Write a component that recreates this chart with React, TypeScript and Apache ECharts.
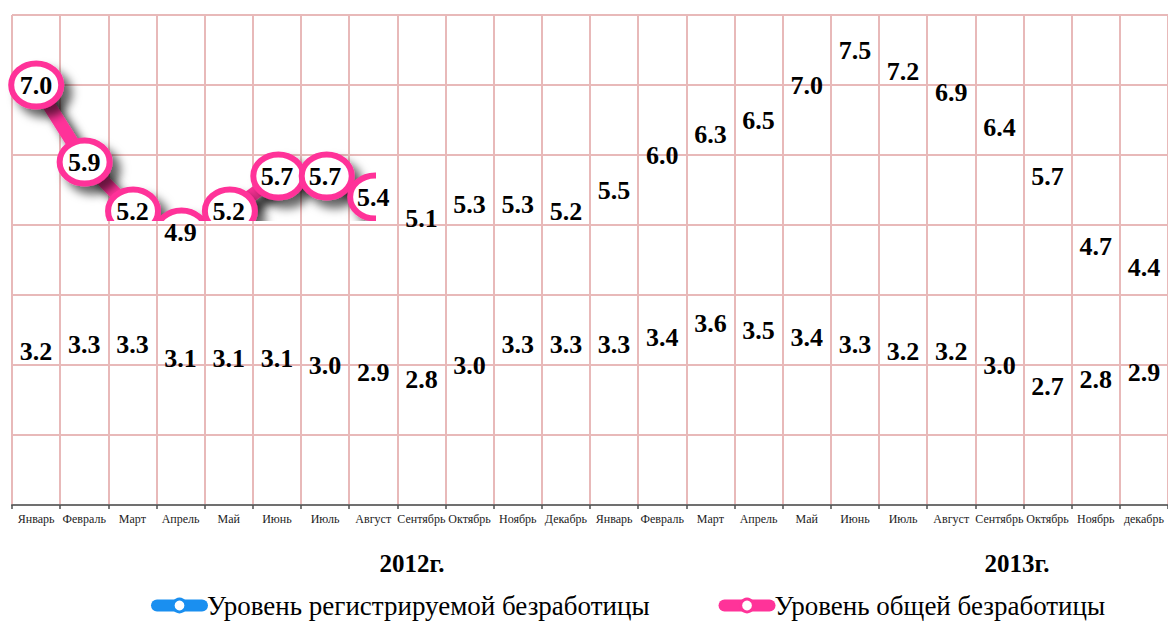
import React, { useEffect, useRef } from 'react';
import * as echarts from 'echarts';

const months = ['Январь', 'Февраль', 'Март', 'Апрель', 'Май', 'Июнь', 'Июль', 'Август', 'Сентябрь', 'Октябрь', 'Ноябрь', 'Декабрь',
  'Январь', 'Февраль', 'Март', 'Апрель', 'Май', 'Июнь', 'Июль', 'Август', 'Сентябрь', 'Октябрь', 'Ноябрь', 'декабрь'];
const registered = [3.2, 3.3, 3.3, 3.1, 3.1, 3.1, 3.0, 2.9, 2.8, 3.0, 3.3, 3.3, 3.3, 3.4, 3.6, 3.5, 3.4, 3.3, 3.2, 3.2, 3.0, 2.7, 2.8, 2.9];
const total = [7.0, 5.9, 5.2, 4.9, 5.2, 5.7, 5.7, 5.4, 5.1, 5.3, 5.3, 5.2, 5.5, 6.0, 6.3, 6.5, 7.0, 7.5, 7.2, 6.9, 6.4, 5.7, 4.7, 4.4];
const years = ['2012г.', '2013г.'];
const seriesNames = ['Уровень регистрируемой безработицы', 'Уровень общей безработицы'];

const W = 1168;
const H = 624;
const BLUE = '#1a8ff0';
const PINK = '#ff3399';
const GRIDC = '#e8b9b9';
const SERIF = '"Liberation Serif", "Times New Roman", serif';
const G = { left: 12, right: -6, top: 15, bottom: 119 };
const Y_MIN = 1;
const Y_MAX = 8;
// visible window of the drawn line (as in the original picture)
const CLIP = { x0: 0, y0: 0, x1: 377, y1: 222 };
const YEAR_POS = [[412, 563], [1017, 563]];

export default function App() {
  const ref = useRef<HTMLDivElement>(null);
  useEffect(() => {
    if (!ref.current) return;
    const chart = echarts.init(ref.current, undefined, { renderer: 'svg' });
    const n = months.length;
    const plotW = W - G.left - G.right;
    const cw = plotW / n;
    const plotH = H - G.top - G.bottom;
    const unit = plotH / (Y_MAX - Y_MIN);
    const g1 = { left: CLIP.x0 + 1, top: CLIP.y0 + 1, width: CLIP.x1 - CLIP.x0 - 2, height: CLIP.y1 - CLIP.y0 - 2 };
    const xMin = (g1.left - G.left) / cw - 0.5;
    const xMax = xMin + g1.width / cw;
    const yMax = Y_MAX - (g1.top - G.top) / unit;
    const yMin = yMax - g1.height / unit;

    const labelCommon = {
      show: true,
      position: 'inside',
      color: '#000',
      fontFamily: SERIF,
      fontWeight: 'bold',
      fontSize: 26,
      formatter: (p: any) => Number(p.value).toFixed(1),
    };

    const option: any = {
      animation: false,
      grid: [
        { left: G.left, right: G.right, top: G.top, bottom: G.bottom, containLabel: false },
        { left: g1.left, top: g1.top, width: g1.width, height: g1.height, containLabel: false },
      ],
      xAxis: [
        {
          type: 'category',
          gridIndex: 0,
          data: months,
          boundaryGap: true,
          axisLine: { show: true, lineStyle: { color: '#707070', width: 2 } },
          axisTick: { show: true, length: 4, lineStyle: { color: '#505050', width: 1.5 } },
          axisLabel: { interval: 0, margin: 8, fontFamily: SERIF, fontSize: 12, color: '#222' },
          splitLine: { show: true, interval: 0, lineStyle: { color: GRIDC, width: 2 } },
        },
        { type: 'value', gridIndex: 1, min: xMin, max: xMax, show: false },
      ],
      yAxis: [
        {
          type: 'value',
          gridIndex: 0,
          min: Y_MIN,
          max: Y_MAX,
          interval: 1,
          axisLine: { show: false },
          axisTick: { show: false },
          axisLabel: { show: false },
          splitLine: { show: true, lineStyle: { color: GRIDC, width: 2 } },
        },
        { type: 'value', gridIndex: 1, min: yMin, max: yMax, show: false },
      ],
      legend: {
        left: 151,
        top: 592,
        padding: 0,
        itemWidth: 45,
        itemHeight: 16,
        itemGap: 69,
        textStyle: { fontFamily: SERIF, fontSize: 27, color: '#000' },
        data: [
          {
            name: seriesNames[0],
            itemStyle: { color: '#fff', borderColor: BLUE, borderWidth: 3, opacity: 1 },
            lineStyle: { color: BLUE, width: 12, cap: 'round', opacity: 1 },
          },
          {
            name: seriesNames[1],
            itemStyle: { color: '#fff', borderColor: PINK, borderWidth: 3, opacity: 1 },
            lineStyle: { color: PINK, width: 12, cap: 'round', opacity: 1 },
          },
        ],
      },
      graphic: years.map((t, i) => ({
        type: 'text',
        x: YEAR_POS[i][0],
        y: YEAR_POS[i][1],
        style: {
          text: t,
          align: 'center',
          verticalAlign: 'middle',
          fontFamily: SERIF,
          fontWeight: 'bold',
          fontSize: 25,
          fill: '#000',
        },
      })),
      series: [
        {
          type: 'custom',
          name: 'line-total',
          xAxisIndex: 1,
          yAxisIndex: 1,
          clip: true,
          silent: true,
          z: 3,
          data: total.map((v, i) => [i, v]),
          renderItem: (params: any, api: any) => {
            const children: any[] = [];
            if (params.dataIndex === 0) {
              const pts: number[][] = [];
              for (let k = 0; k < params.dataInsideLength; k++) {
                pts.push(api.coord([api.value(0, k), api.value(1, k)]));
              }
              children.push({
                type: 'polyline',
                z2: 0,
                shape: { points: pts },
                style: {
                  stroke: PINK,
                  lineWidth: 13,
                  fill: null,
                  lineJoin: 'round',
                  shadowBlur: 10,
                  shadowColor: 'rgba(0,0,0,0.75)',
                  shadowOffsetX: 8,
                  shadowOffsetY: 8,
                },
              });
            }
            const c = api.coord([api.value(0), api.value(1)]);
            children.push({
              type: 'ellipse',
              z2: 1,
              shape: { cx: c[0], cy: c[1], rx: 25, ry: 21.5 },
              style: {
                fill: '#fff',
                stroke: PINK,
                lineWidth: 6,
                shadowBlur: 10,
                shadowColor: 'rgba(0,0,0,0.6)',
                shadowOffsetX: 8,
                shadowOffsetY: 8,
              },
            });
            return { type: 'group', children };
          },
        },
        {
          type: 'line',
          name: seriesNames[0],
          xAxisIndex: 0,
          yAxisIndex: 0,
          data: registered,
          symbol: 'circle',
          symbolSize: 2,
          itemStyle: { color: 'rgba(0,0,0,0)' },
          lineStyle: { width: 0, color: BLUE },
          label: labelCommon,
          emphasis: { disabled: true },
          z: 10,
        },
        {
          type: 'line',
          name: seriesNames[1],
          xAxisIndex: 0,
          yAxisIndex: 0,
          data: total,
          symbol: 'circle',
          symbolSize: 2,
          itemStyle: { color: 'rgba(0,0,0,0)' },
          lineStyle: { width: 0, color: PINK },
          label: labelCommon,
          emphasis: { disabled: true },
          z: 10,
        },
      ],
    };
    chart.setOption(option);
    return () => chart.dispose();
  }, []);
  return <div ref={ref} style={{ position: 'absolute', left: 0, top: 0, width: W, height: H }} />;
}
